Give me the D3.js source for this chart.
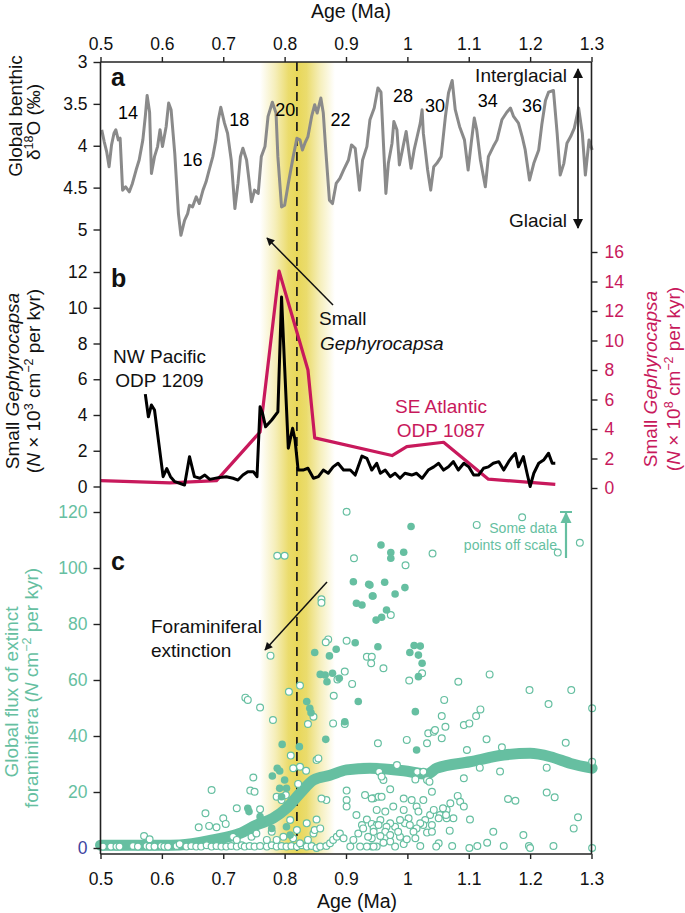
<!DOCTYPE html>
<html><head><meta charset="utf-8">
<script src="https://cdn.jsdelivr.net/npm/d3@7"></script>
<style>body{margin:0;background:#fff} text{font-family:"Liberation Sans",Arial,Helvetica,sans-serif}</style>
</head><body><svg id="c" width="685" height="913"></svg>
<script>
// ---------------- DATA ----------------
const ageTicks = [0.5,0.6,0.7,0.8,0.9,1,1.1,1.2,1.3];
const d18oTicks = [3,3.5,4,4.5,5];
const gephLeftTicks = [0,2,4,6,8,10,12];
const gephRightTicks = [0,2,4,6,8,10,12,14,16];
const fluxTicks = [0,20,40,60,80,100,120];

// Panel a: global benthic d18O stack [age Ma, permil]
const d18o = [[0.502,3.81],[0.506,3.95],[0.510,4.07],[0.514,4.25],[0.518,3.99],[0.522,3.85],[0.525,3.81],[0.529,3.93],[0.532,3.91],[0.536,4.53],[0.541,4.49],[0.547,4.55],[0.552,4.45],[0.558,4.29],[0.563,4.17],[0.569,3.93],[0.573,3.65],[0.576,3.40],[0.580,3.60],[0.583,4.33],[0.588,4.13],[0.593,4.01],[0.597,3.81],[0.601,4.01],[0.607,3.77],[0.611,3.49],[0.615,3.57],[0.621,4.09],[0.627,4.81],[0.631,5.07],[0.637,4.89],[0.642,4.81],[0.645,4.71],[0.650,4.73],[0.656,4.61],[0.661,4.69],[0.667,4.53],[0.672,4.43],[0.677,4.29],[0.683,4.13],[0.688,3.93],[0.692,3.69],[0.696,3.54],[0.702,3.73],[0.707,3.85],[0.713,4.17],[0.719,4.75],[0.724,4.45],[0.728,4.13],[0.732,4.03],[0.738,4.17],[0.742,4.41],[0.746,4.67],[0.751,4.53],[0.757,4.57],[0.762,4.13],[0.768,4.01],[0.773,3.65],[0.780,3.48],[0.786,3.61],[0.789,4.13],[0.795,4.73],[0.800,4.71],[0.806,4.45],[0.814,4.13],[0.820,3.91],[0.825,3.93],[0.829,4.05],[0.833,3.97],[0.838,3.89],[0.844,3.65],[0.849,3.51],[0.853,3.61],[0.859,3.43],[0.863,3.61],[0.867,4.05],[0.873,4.65],[0.878,4.69],[0.884,4.45],[0.890,4.39],[0.896,4.29],[0.904,4.17],[0.909,3.99],[0.915,4.03],[0.922,4.53],[0.927,4.17],[0.934,4.01],[0.939,3.69],[0.946,3.55],[0.952,3.31],[0.957,3.36],[0.961,3.97],[0.965,4.57],[0.969,4.21],[0.975,3.97],[0.978,3.71],[0.983,3.81],[0.987,4.23],[0.993,4.01],[0.998,3.83],[1.002,4.05],[1.006,4.27],[1.011,4.05],[1.016,3.89],[1.021,3.73],[1.024,3.57],[1.026,3.85],[1.033,4.29],[1.038,4.53],[1.043,4.25],[1.048,4.21],[1.055,4.13],[1.062,3.65],[1.067,3.37],[1.073,3.22],[1.078,3.57],[1.085,3.77],[1.093,3.93],[1.099,4.29],[1.104,3.97],[1.109,3.67],[1.113,3.81],[1.119,4.17],[1.127,4.49],[1.132,4.13],[1.140,4.01],[1.146,3.93],[1.154,3.69],[1.162,3.60],[1.168,3.55],[1.173,3.65],[1.181,3.73],[1.187,3.89],[1.192,4.05],[1.199,4.41],[1.206,4.21],[1.214,4.05],[1.219,3.75],[1.225,3.46],[1.230,3.36],[1.238,3.34],[1.244,3.85],[1.249,4.35],[1.255,4.21],[1.260,3.97],[1.266,3.89],[1.272,3.79],[1.279,3.55],[1.285,3.85],[1.290,4.35],[1.296,3.93],[1.301,4.05]];

// Marine isotope stage labels [label, age, d18O position]
const misLabels = [["14",0.545,3.68],["16",0.650,4.24],["18",0.726,3.76],["20",0.801,3.64],["22",0.891,3.76],["28",0.993,3.48],["30",1.045,3.60],["34",1.131,3.54],["36",1.203,3.60]];

// Panel b: NW Pacific ODP 1209 (left axis, x10^3) [age, value]
const odp1209 = [[0.573,5.17],[0.578,3.9],[0.583,4.56],[0.588,4.28],[0.602,0.55],[0.608,1.0],[0.614,0.55],[0.621,0.27],[0.629,0.18],[0.637,0.08],[0.645,1.67],[0.653,0.55],[0.662,0.46],[0.670,0.64],[0.678,0.4],[0.694,0.51],[0.705,0.55],[0.716,0.46],[0.724,0.36],[0.732,0.64],[0.740,0.83],[0.749,0.83],[0.755,0.55],[0.760,4.46],[0.764,4.09],[0.769,3.34],[0.779,3.72],[0.789,4.18],[0.795,10.6],[0.800,6.7],[0.806,2.14],[0.810,2.79],[0.813,3.26],[0.817,2.6],[0.822,0.92],[0.830,0.92],[0.838,1.02],[0.847,0.46],[0.855,0.55],[0.863,0.92],[0.871,0.74],[0.879,1.1],[0.887,1.3],[0.896,0.92],[0.907,0.92],[0.915,0.64],[0.926,1.7],[0.934,1.58],[0.942,0.92],[0.950,1.3],[0.956,0.74],[0.964,0.92],[0.972,0.55],[0.980,0.74],[0.988,0.46],[0.996,0.74],[1.007,0.64],[1.015,0.74],[1.024,0.46],[1.034,0.92],[1.043,1.1],[1.051,1.3],[1.059,0.92],[1.067,1.1],[1.075,1.39],[1.083,0.92],[1.092,1.3],[1.100,1.1],[1.108,0.64],[1.116,0.64],[1.124,1.02],[1.132,1.1],[1.140,1.3],[1.149,1.39],[1.157,0.92],[1.165,1.39],[1.171,1.67],[1.176,1.86],[1.181,1.1],[1.189,1.67],[1.195,0.74],[1.200,0.0],[1.206,0.74],[1.214,1.3],[1.222,1.48],[1.230,1.86],[1.236,1.3],[1.241,1.3]];

// Panel b: SE Atlantic ODP 1087 (right axis, x10^8) [age, value]
const odp1087 = [[0.5,0.5],[0.613,0.35],[0.689,0.5],[0.760,3.8],[0.791,14.7],[0.838,8.0],[0.849,3.4],[0.975,2.2],[0.999,2.8],[1.059,3.1],[1.132,0.6],[1.241,0.25]];

// Panel c: smoothed global flux (thick band) [age, value]
const fluxBand = [[0.5,1],[0.55,1],[0.6,1],[0.629,1.1],[0.683,2.9],[0.727,5.2],[0.754,8.2],[0.781,10.6],[0.803,14.2],[0.825,19.5],[0.847,24.3],[0.874,26],[0.901,27.9],[0.939,28.5],[0.994,27.6],[1.032,26.4],[1.048,28.5],[1.102,30.8],[1.157,33.2],[1.200,33.8],[1.233,32.6],[1.266,30.2],[1.301,28.5]];

// Panel c: filled-circle samples [age, value]
const fluxFilled = [[0.912,95.1],[0.937,94.2],[0.943,90],[0.917,87.4],[0.926,86.8],[0.949,81.4],[0.915,73.3],[0.884,71],[0.873,68.6],[0.849,69.8],[0.952,71.9],[0.858,62],[0.866,61.8],[0.878,62.4],[0.869,59.4],[0.889,60.6],[0.920,52.3],[0.836,52.3],[0.841,49.9],[0.843,48.3],[1.006,114.8],[0.957,108.2],[0.973,105.5],[0.973,103.5],[0.994,105.6],[0.963,94.9],[0.980,90.7],[0.996,93],[0.944,90],[0.939,93.9],[0.966,85],[0.958,82.4],[1.011,72.3],[1.021,72.1],[1.018,68.9],[1.004,69.8],[1.024,66],[1.018,61.2],[1.013,48.7],[0.898,45.1],[0.867,38.8],[0.796,37],[0.824,36.2],[0.788,28.5],[0.792,27.5],[0.780,25.7],[0.800,24.3],[0.792,21.3],[0.803,21.3],[0.795,18.3],[0.740,14.2],[0.742,13],[0.803,7.6],[0.809,4.6],[0.779,7],[0.760,11.2],[0.762,9.4],[1.015,35]];

// Panel c: open-circle samples [age, value]
const fluxOpen = [[0.901,120.1],[0.788,104.4],[0.800,104.4],[0.913,103.5],[0.860,88.8],[0.860,87.6],[0.871,74.5],[0.867,73.5],[0.901,74],[0.777,68.7],[0.934,68.3],[0.942,68.3],[0.941,66],[0.898,63],[0.886,60.2],[0.910,58.6],[0.825,58],[0.807,55.8],[0.880,54.4],[0.736,53.7],[0.740,52.9],[0.760,50.2],[0.781,45.7],
[1.113,115.4],[1.187,118.1],[1.245,105.5],[1.281,109],[1.041,105.2],[0.997,101],[0.973,83.2],[0.961,64.2],[1.024,62.4],[1.003,59.8],[1.083,59.4],[1.134,62],[1.060,52.9],[1.199,56.4],[1.267,56.4],[1.230,51.4],[1.119,49.5],[1.112,47.1],[1.056,47.1],[1.301,49.9],
[0.847,46.9],[0.838,44.3],[0.879,44.5],[0.898,44.3],[0.810,33],[0.825,29],[0.835,27.6],[0.814,28.5],[0.852,31.4],[0.855,32],[0.749,25.2],[0.681,20.7],[0.744,20.5],[0.751,20.1],[0.822,22.9],[0.787,18.3],[0.795,17.1],[0.802,18.9],[0.722,14.2],[0.760,13.8],[0.671,12.4],[0.700,10.6],[0.704,8.6],[0.660,7.4],[0.677,7.9],[0.689,7.4],[0.571,4.3],[0.580,3.1],[0.868,17.1],[0.860,17.7],[0.852,10.2],[0.836,8.8],[0.901,20.5],[0.901,17.1],[0.901,14.8],[0.931,18.9],[0.945,17.8],[0.953,18.3],[0.952,37.4],[0.917,11.8],[0.934,10.2],[0.926,8.2],[0.942,8.6],
[0.999,38.6],[1.032,37.4],[1.034,41],[1.043,41.5],[1.045,42.1],[1.056,39.2],[1.062,43.3],[1.092,43.9],[1.101,44.5],[1.129,38.8],[1.097,35],[1.154,36],[1.258,37.6],[0.983,29.6],[0.954,27.2],[1.016,27.2],[1.026,27.2],[1.013,24.5],[1.032,24.3],[1.036,23.7],[1.118,28.7],[1.227,28.7],[1.301,30.8],[1.151,27.3],[1.092,24.9],[0.961,24.3],[0.958,25.5],
[1.040,20.1],[1.026,17.1],[0.972,21],[0.958,18.3],[0.942,17.7],[0.950,13.6],[0.964,13],[0.977,14.8],[0.994,17.7],[0.994,13.6],[1.007,17.1],[1.015,14.8],[1.018,13],[1.082,18.6],[1.086,16.5],[1.092,14.8],[1.070,16],[1.064,13.6],[1.164,17.5],[1.176,16.9],[1.227,19.8],[1.240,18.1],[1.102,10.2],[1.075,10.6],[1.064,10.6],[1.053,11.8],[1.040,8.2],[1.037,11.8],[1.029,10],[1.026,8.2],[1.021,8.8],[1.015,7],[1.010,5.8],[1.002,10.6],[0.996,8.8],[0.988,10],[0.980,7.6],[0.972,8.8],[0.966,7.6],[0.964,5.8],[0.956,10],[0.950,8.2],[0.945,7],[1.069,6.2],[1.140,5.8],[1.189,4.6],[1.278,11],[1.271,7],[1.198,0.7],[1.200,0],[1.238,0.7],[1.301,0],[1.157,0.7],[1.130,1.9],[1.114,0.7],[1.101,0],[1.073,0.7],[1.051,1.7],[1.047,0.5],[1.021,0.7],[0.994,1.4],[0.980,0.5],[0.972,2.3],[0.961,1.9],[0.950,0.5],[0.942,0.5],[0.988,4],[0.985,5.8],[0.972,4.6],[0.956,4.3],[0.942,3.5],[1.013,3.5],[0.999,3.1],[1.004,8.2],[1.032,5.5],[1.040,5.8],[1.051,10.6],[1.058,14.2],[1.063,11.8],[1.043,13.6],
[0.504,0.5],[0.517,0.5],[0.526,0.5],[0.531,0.5],[0.553,0.7],[0.561,0.5],[0.575,0.7],[0.580,0.5],[0.588,0.5],[0.599,0.7],[0.604,0.5],[0.610,0.5],[0.624,0.7],[0.629,1.4],[0.640,0.5],[0.648,0.7],[0.656,0.5],[0.664,0.5],[0.673,1],[0.681,0.5],[0.689,0.7],[0.697,0.5],[0.705,0.5],[0.713,0.7],[0.722,0.5],[0.730,1],[0.735,0.5],[0.743,0.7],[0.751,0.5],[0.760,0.7],[0.771,0.5],[0.779,1],[0.787,0.5],[0.795,0.7],[0.803,0.5],[0.811,0.7],[0.820,0.5],[0.828,1],[0.836,0.5],[0.844,0.7],[0.852,0],[0.858,0.5],[0.868,0.7],[0.874,1.7],[0.879,2.9],[0.885,4],[0.890,5.2],[0.896,3.5],[0.907,0.5],[0.912,2.9],[0.920,5.2],[0.928,7],[0.936,4],[0.945,5.8],[0.953,8.2],[0.945,0.5],[0.934,0.5],[0.923,0.5],[0.716,4],[0.722,2.9],[0.746,4],[0.754,5.2],[0.771,2.9],[0.787,2.9],[0.798,4],[0.814,3.5],[0.838,2.9],[0.847,5.2],[0.825,1.7],[0.779,5.8],[0.809,10],[0.820,6.4],[0.849,6.4],[0.858,7]];

const extinctionAge = 0.82;
const bandRange = [0.760, 0.882];

// ---------------- STYLE ----------------
const GREY = "#8a8a8a", MAG = "#c8195c", TEAL = "#66bfa1", BLUE = "#3d44a0";
const TF = 17.5, LF = 19;

const svg = d3.select("#c");
const x = d3.scaleLinear([0.5,1.3],[100.5,591.5]);
const yA = d3.scaleLinear([3,5],[62,229.5]);
const yB = d3.scaleLinear([0,12],[486.5,272]);
const yB2 = d3.scaleLinear([0,16],[488,252]);
const yC = d3.scaleLinear([0,120],[848,512]);
const TOP = 62, BOT = 854;
const fmt = d3.format("~g");

const defs = svg.append("defs");
const grad = defs.append("linearGradient").attr("id","band").attr("gradientUnits","userSpaceOnUse")
  .attr("x1",x(bandRange[0])).attr("x2",x(bandRange[1])).attr("y1",0).attr("y2",0);
[[0,0],[0.2,0.35],[0.38,0.75],[0.5,0.85],[0.62,0.75],[0.8,0.35],[1,0]].forEach(([o,a])=>
  grad.append("stop").attr("offset",o).attr("stop-color","#e4d03c").attr("stop-opacity",a));
function marker(id,color,w,h){
  defs.append("marker").attr("id",id).attr("viewBox","0 0 10 10").attr("refX",9).attr("refY",5)
    .attr("markerUnits","userSpaceOnUse").attr("markerWidth",w).attr("markerHeight",h)
    .attr("orient","auto-start-reverse").append("path").attr("d","M0,0L10,5L0,10z").attr("fill",color);
}
marker("ahs","#111",10,8); marker("ahb","#111",13,10); marker("aht",TEAL,11,12);

// yellow band + dashed line
svg.append("rect").attr("x",x(bandRange[0])).attr("width",x(bandRange[1])-x(bandRange[0]))
  .attr("y",TOP).attr("height",BOT-TOP).attr("fill","url(#band)");
svg.append("line").attr("x1",x(extinctionAge)).attr("x2",x(extinctionAge)).attr("y1",TOP).attr("y2",BOT)
  .attr("stroke","#1a1a1a").attr("stroke-width",1.7).attr("stroke-dasharray","9,6");

// Panel a line
svg.append("path").datum(d18o).attr("fill","none").attr("stroke",GREY).attr("stroke-width",3).attr("stroke-linejoin","round")
  .attr("d",d3.line().x(d=>x(d[0])).y(d=>yA(d[1])));
svg.append("g").selectAll("text").data(misLabels).join("text")
  .attr("x",d=>x(d[1])).attr("y",d=>yA(d[2])).attr("text-anchor","middle").attr("font-size",18).text(d=>d[0]);

// Panel b lines
svg.append("path").datum(odp1087).attr("fill","none").attr("stroke",MAG).attr("stroke-width",3.2).attr("stroke-linejoin","round")
  .attr("d",d3.line().x(d=>x(d[0])).y(d=>yB2(d[1])));
svg.append("path").datum(odp1209).attr("fill","none").attr("stroke","#000").attr("stroke-width",3).attr("stroke-linejoin","round")
  .attr("d",d3.line().x(d=>x(d[0])).y(d=>yB(d[1])));

// Panel c
svg.append("path").datum(fluxBand).attr("fill","none").attr("stroke",TEAL).attr("stroke-width",11).attr("stroke-linecap","round").attr("stroke-linejoin","round")
  .attr("d",d3.line().curve(d3.curveMonotoneX).x(d=>x(d[0])).y(d=>yC(d[1])));
svg.append("g").selectAll("circle").data(fluxOpen).join("circle")
  .attr("cx",d=>x(d[0])).attr("cy",d=>yC(d[1])).attr("r",3.4).attr("fill","#fff").attr("stroke",TEAL).attr("stroke-width",1.2);
svg.append("g").selectAll("circle").data(fluxFilled).join("circle")
  .attr("cx",d=>x(d[0])).attr("cy",d=>yC(d[1])).attr("r",3.8).attr("fill",TEAL);

// frame
const fr = svg.append("g").attr("stroke","#222").attr("stroke-width",1.6).attr("fill","none");
fr.append("line").attr("x1",x.range()[0]).attr("x2",x.range()[0]).attr("y1",TOP).attr("y2",BOT);
fr.append("line").attr("x1",x.range()[1]).attr("x2",x.range()[1]).attr("y1",TOP).attr("y2",BOT);
fr.append("line").attr("x1",x.range()[0]).attr("x2",x.range()[1]).attr("y1",TOP).attr("y2",TOP);
fr.append("line").attr("x1",x.range()[0]).attr("x2",x.range()[1]).attr("y1",BOT).attr("y2",BOT);

function styleAxis(g,color){
  g.select(".domain").remove();
  g.selectAll("line").attr("stroke","#222").attr("stroke-width",1.4);
  g.selectAll("text").attr("font-size",TF).attr("fill",color).style("font-family",'"Liberation Sans",Arial,sans-serif');
}
svg.append("g").attr("transform",`translate(0,${TOP})`)
  .call(d3.axisTop(x).tickValues(ageTicks).tickSize(5).tickPadding(7).tickFormat(fmt)).call(g=>styleAxis(g,"#111"));
svg.append("g").attr("transform",`translate(0,${BOT})`)
  .call(d3.axisBottom(x).tickValues(ageTicks).tickSize(5).tickPadding(14).tickFormat(fmt)).call(g=>styleAxis(g,"#111"));
svg.append("g").attr("transform",`translate(${x.range()[0]},0)`)
  .call(d3.axisLeft(yA).tickValues(d18oTicks).tickSize(7).tickPadding(6).tickFormat(fmt)).call(g=>styleAxis(g,"#111"));
svg.append("g").attr("transform",`translate(${x.range()[0]},0)`)
  .call(d3.axisLeft(yB).tickValues(gephLeftTicks).tickSize(7).tickPadding(6).tickFormat(fmt)).call(g=>styleAxis(g,"#111"));
svg.append("g").attr("transform",`translate(${x.range()[0]},0)`)
  .call(d3.axisLeft(yC).tickValues(fluxTicks).tickSize(7).tickPadding(6).tickFormat(fmt))
  .call(g=>{styleAxis(g,TEAL); g.selectAll("text").filter(d=>d===0).attr("fill",BLUE);});
svg.append("g").attr("transform",`translate(${x.range()[1]},0)`)
  .call(d3.axisRight(yB2).tickValues(gephRightTicks).tickSize(6).tickPadding(7).tickFormat(fmt)).call(g=>styleAxis(g,MAG));

// axis titles
function txt(xp,yp,str,opt={}){
  return svg.append("text").attr("x",xp).attr("y",yp).attr("font-size",opt.fs||LF).attr("fill",opt.color||"#111")
    .attr("text-anchor",opt.anchor||"start").attr("font-style",opt.italic?"italic":null).attr("font-weight",opt.bold?"bold":null).text(str);
}
txt(351,18,"Age (Ma)",{anchor:"middle",fs:19.5});
txt(357,908,"Age (Ma)",{anchor:"middle",fs:19.5});

function rot(xp,yp,parts,color){
  const t = svg.append("text").attr("transform",`translate(${xp},${yp}) rotate(-90)`).attr("text-anchor","middle")
    .attr("font-size",LF).attr("fill",color);
  parts.forEach(p=>{
    const s = t.append("tspan").text(p.t);
    if(p.i) s.attr("font-style","italic");
    if(p.sup){ s.attr("font-size",12.5).attr("dy",-7); }
    if(p.down) s.attr("dy",7);
  });
}
rot(22,116,[{t:"Global benthic"}],"#111");
rot(40,122,[{t:"δ"},{t:"18",sup:1},{t:"O (‰)",down:1}],"#111");
rot(19,381,[{t:"Small "},{t:"Gephyrocapsa",i:1}],"#111");
rot(40,381,[{t:"("},{t:"N",i:1},{t:" × 10"},{t:"3",sup:1},{t:" cm",down:1},{t:"−2",sup:1},{t:" per kyr)",down:1}],"#111");
rot(18,692,[{t:"Global flux of extinct"}],TEAL);
rot(38,688,[{t:"foraminifera ("},{t:"N",i:1},{t:" cm"},{t:"−2",sup:1},{t:" per kyr)",down:1}],TEAL);
rot(657,379,[{t:"Small "},{t:"Gephyrocapsa",i:1}],MAG);
rot(680,379,[{t:"("},{t:"N",i:1},{t:" × 10"},{t:"8",sup:1},{t:" cm",down:1},{t:"−2",sup:1},{t:" per kyr)",down:1}],MAG);

// panel letters
txt(111,86,"a",{fs:25,bold:1}); txt(111,287,"b",{fs:25,bold:1}); txt(111,570,"c",{fs:25,bold:1});

// panel a annotations
txt(567,82,"Interglacial",{anchor:"end"});
txt(567,227,"Glacial",{anchor:"end"});
svg.append("line").attr("x1",578).attr("x2",578).attr("y1",69).attr("y2",228).attr("stroke","#111").attr("stroke-width",1.6)
  .attr("marker-start","url(#ahb)").attr("marker-end","url(#ahb)");

// panel b annotations
txt(159.5,363,"NW Pacific",{anchor:"middle"});
txt(159.5,387,"ODP 1209",{anchor:"middle"});
txt(319,325,"Small");
txt(320,350,"Gephyrocapsa",{italic:1});
txt(441,413,"SE Atlantic",{anchor:"middle",color:MAG});
txt(441,437,"ODP 1087",{anchor:"middle",color:MAG});
svg.append("line").attr("x1",333).attr("y1",305).attr("x2",267).attr("y2",238).attr("stroke","#111").attr("stroke-width",1.5).attr("marker-end","url(#ahs)");

// panel c annotations
txt(151,633,"Foraminiferal");
txt(151,657,"extinction");
svg.append("line").attr("x1",327).attr("y1",582).attr("x2",265).attr("y2",650).attr("stroke","#111").attr("stroke-width",1.5).attr("marker-end","url(#ahs)");
txt(557,533,"Some data",{anchor:"end",fs:14,color:TEAL});
txt(557,550,"points off scale",{anchor:"end",fs:14,color:TEAL});
svg.append("line").attr("x1",566).attr("x2",566).attr("y1",558).attr("y2",513).attr("stroke",TEAL).attr("stroke-width",2.2).attr("marker-end","url(#aht)");
svg.append("line").attr("x1",560).attr("x2",572).attr("y1",512).attr("y2",512).attr("stroke",TEAL).attr("stroke-width",2);
</script></body></html>
